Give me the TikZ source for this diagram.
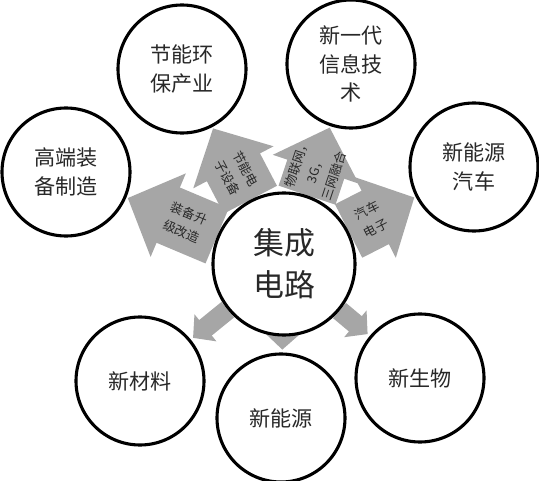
\documentclass[tikz,border=0pt]{standalone}
\usepackage{fontspec}
\setmainfont{Noto Sans CJK SC}
\usetikzlibrary{arrows.meta,backgrounds}
\definecolor{arrowgray}{RGB}{166,166,166}
\definecolor{inkgray}{RGB}{40,40,40}

\begin{document}
\begin{tikzpicture}[
  bubble/.style={circle,draw,line width=2.2pt,fill=white,minimum size=3.2cm,align=center,text=inkgray,font=\fontsize{15}{20}\selectfont},
  hub/.style={bubble,minimum size=3.55cm,font=\fontsize{22}{30}\selectfont},
  bigarrow/.style={arrowgray,line width=1.5cm,-{Triangle[length=1.1cm,width=2.2cm]},shorten >=1pt},
  smallarrow/.style={arrowgray,line width=0.5cm,-{Triangle[length=0.4cm,width=0.85cm]},shorten >=2pt},
  arrowtext/.style={sloped,align=center,text=inkgray,font=\fontsize{9}{14}\selectfont}]
  \useasboundingbox (0,0) rectangle (13.475,12);
  % hub and the eight fields
  \node[hub] (ic) at (7.1,5.4) {集成\\电路};
  \node[bubble] (gd) at (1.65,7.7) {高端装\\备制造};
  \node[bubble] (jn) at (4.55,10.275) {节能环\\保产业};
  \node[bubble] (xx) at (8.775,10.4) {新一代\\信息技\\术};
  \node[bubble] (qc) at (11.85,7.825) {新能源\\汽车};
  \node[bubble] (cl) at (3.5,2.475) {新材料};
  \node[bubble] (ny) at (7.025,1.55) {新能源};
  \node[bubble] (sw) at (10.5,2.55) {新生物};
  % block arrows behind the hub
  \begin{scope}[on background layer]
    \foreach \to/\txt/\p in {gd/{装备升\\级改造}/0.35,jn/{节能电\\子设备}/0.36,xx/{物联网，\\3G，\\三网融合}/0.37,qc/{汽车\\电子}/0.34}
      \draw[bigarrow] (ic) -- node[arrowtext,pos=\p] {\txt} (\to);
    \foreach \to in {cl,ny,sw}
      \draw[smallarrow] (ic) -- (\to);
  \end{scope}
\end{tikzpicture}
\end{document}
